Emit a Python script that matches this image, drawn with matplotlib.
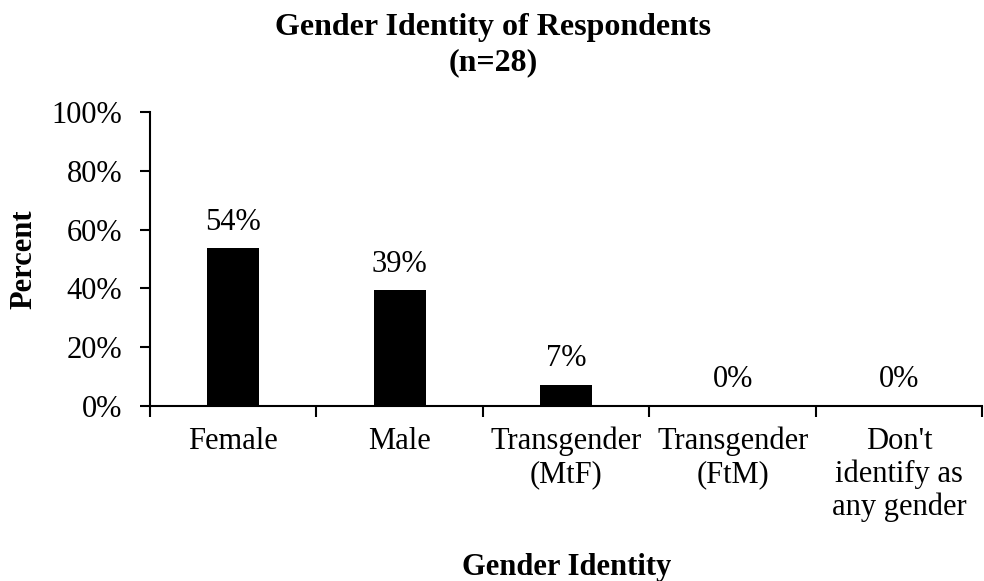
import matplotlib
matplotlib.use("Agg")
import matplotlib.pyplot as plt
from matplotlib.ticker import FuncFormatter

categories = ["Female", "Male", "Transgender\n(MtF)", "Transgender\n(FtM)",
              "Don't\nidentify as\nany gender"]
percents = [53.6, 39.3, 7.1, 0.0, 0.0]
value_labels = ["54%", "39%", "7%", "0%", "0%"]
y_ticks = [0, 20, 40, 60, 80, 100]

plt.rcParams["font.family"] = ["Liberation Serif", "DejaVu Serif"]

fig = plt.figure(figsize=(9.84, 5.81), dpi=100)
ax = fig.add_axes([0.1524, 0.3012, 0.846, 0.506])

x = list(range(len(categories)))
ax.bar(x, percents, width=0.31, color="black")

for xi, v, lab in zip(x, percents, value_labels):
    ax.text(xi, v + 4.0, lab, ha="center", va="bottom", fontsize=22)

ax.set_xlim(-0.5, len(categories) - 0.5)
ax.set_ylim(0, 100)
ax.set_yticks(y_ticks)
ax.yaxis.set_major_formatter(FuncFormatter(lambda v, p: f"{v:.0f}%"))
ax.tick_params(axis="y", labelsize=22, length=7, width=1.5, direction="out", pad=13)

# category labels at centers, tick marks between categories
ax.set_xticks(x)
ax.set_xticklabels(categories, fontsize=22, linespacing=1.17)
ax.tick_params(axis="x", which="major", length=0, pad=15)
ax.set_xticks([i - 0.5 for i in range(len(categories) + 1)], minor=True)
ax.tick_params(axis="x", which="minor", length=8, width=1.5, direction="out")

for side in ["top", "right"]:
    ax.spines[side].set_visible(False)
for side in ["left", "bottom"]:
    ax.spines[side].set_linewidth(1.5)

ax.set_ylabel("Percent", fontsize=22, fontweight="bold", labelpad=9)
ax.set_xlabel("Gender Identity", fontsize=22, fontweight="bold", labelpad=22)
fig.suptitle("Gender Identity of Respondents\n(n=28)", fontsize=23,
             fontweight="bold", x=0.501, y=0.978, linespacing=1.27)

fig.savefig("out.png", dpi=100)
